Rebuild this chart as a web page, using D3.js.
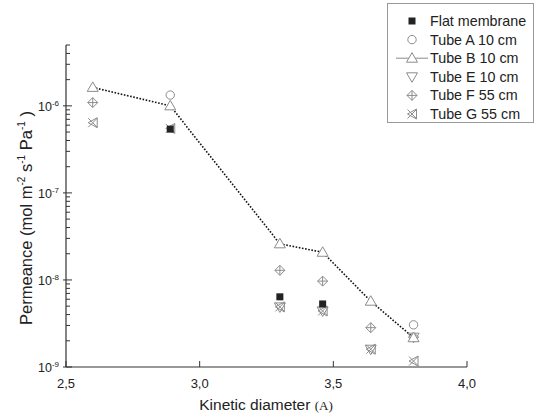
<!DOCTYPE html>
<html>
<head>
<meta charset="utf-8">
<script src="https://d3js.org/d3.v7.min.js"></script>
<style>
  body {margin:0; background:#fff;}
  svg {display:block; font-family:'Liberation Sans',Arial,sans-serif;}
</style>
</head>
<body>
<svg id="chart" width="538" height="415"></svg>
<script>
// kinetic diameters (A)
const diam = [2.6, 2.89, 3.3, 3.46, 3.64, 3.8];
// permeances (mol m-2 s-1 Pa-1), null = not measured / not shown
const flat  = [null, 5.4e-7, 6.4e-9, 5.3e-9, null, null];
const tubeA = [null, 1.33e-6, null, null, null, 3.05e-9];
const tubeB = [1.63e-6, 1.0e-6, 2.6e-8, 2.08e-8, 5.7e-9, 2.17e-9];
const tubeE = [null, null, 4.9e-9, 4.4e-9, 1.6e-9, 2.2e-9];
const tubeF = [1.09e-6, null, 1.29e-8, 9.7e-9, 2.83e-9, 2.2e-9];
const tubeG = [6.4e-7, 5.5e-7, 4.9e-9, 4.4e-9, 1.6e-9, 1.17e-9];
const xTicks = [2.5, 3.0, 3.5, 4.0];
const yTicks = [1e-9, 1e-8, 1e-7, 1e-6];
const seriesNames = ['Flat membrane','Tube A 10 cm','Tube B 10 cm','Tube E 10 cm','Tube F 55 cm','Tube G 55 cm'];

const svg = d3.select('#chart');
const x = d3.scaleLinear().domain([2.5, 4.0]).range([66, 467]);
const y = d3.scaleLog().domain([1e-9, 5e-6]).range([367, 45]);
const grey = '#8c8c8c';

// axes
svg.append('line').attr('x1',66).attr('x2',467).attr('y1',367).attr('y2',367)
   .attr('stroke','#333').attr('stroke-width',1.2);
svg.append('line').attr('x1',66).attr('x2',66).attr('y1',45).attr('y2',367)
   .attr('stroke','#333').attr('stroke-width',1.2);

xTicks.forEach(function(t) {
  svg.append('line').attr('x1',x(t)).attr('x2',x(t)).attr('y1',367).attr('y2',361)
     .attr('stroke','#333');
  svg.append('text').attr('x',x(t)).attr('y',388).attr('text-anchor','middle')
     .attr('font-size',13).attr('fill','#222').text(d3.format('.1f')(t).replace('.',','));
});

// log ticks (minor 2..9 each decade)
const minor = [];
for (let e = -9; e <= -6; e++) for (let k = 1; k <= 9; k++) {
  const v = k * Math.pow(10, e);
  if (v <= 5e-6) minor.push(v);
}
minor.forEach(function(v) {
  const major = yTicks.indexOf(v) >= 0;
  svg.append('line').attr('x1',major ? 63 : 66).attr('x2',major ? 72 : 70)
     .attr('y1',y(v)).attr('y2',y(v)).attr('stroke','#333');
});
yTicks.forEach(function(t) {
  const tx = svg.append('text').attr('x',59).attr('y',y(t)+5).attr('text-anchor','end')
     .attr('font-size',12.5).attr('fill','#222');
  tx.append('tspan').text('10');
  tx.append('tspan').attr('dy',-5).attr('font-size',8).text(Math.round(Math.log10(t)));
});

// axis titles
const xt = svg.append('text').attr('x',266).attr('y',410).attr('text-anchor','middle')
   .attr('font-size',15.5).attr('fill','#222');
xt.append('tspan').text('Kinetic diameter ');
xt.append('tspan').attr('font-family','Liberation Serif,serif').attr('font-size',13).text('(A)');

const yt = svg.append('text').attr('transform','translate(32,218) rotate(-90)')
   .attr('text-anchor','middle').attr('font-size',16.5).attr('fill','#222');
yt.append('tspan').text('Permeance (mol m');
yt.append('tspan').attr('dy',-7).attr('font-size',10).text('-2');
yt.append('tspan').attr('dy',7).text(' s');
yt.append('tspan').attr('dy',-7).attr('font-size',10).text('-1');
yt.append('tspan').attr('dy',7).text(' Pa');
yt.append('tspan').attr('dy',-7).attr('font-size',10).text('-1');
yt.append('tspan').attr('dy',7).text(' )');

// symbol drawers
function drawSymbol(g, kind) {
  if (kind === 0) {
    g.append('rect').attr('x',-3.5).attr('y',-3.5).attr('width',7).attr('height',7).attr('fill','#222');
  } else if (kind === 1) {
    g.append('circle').attr('r',4.2).attr('fill','#fff').attr('stroke',grey);
  } else if (kind === 2) {
    g.append('path').attr('d','M0,-5.5L5.5,4L-5.5,4Z').attr('fill','#fff').attr('stroke',grey);
  } else if (kind === 3) {
    g.append('path').attr('d','M0,5.5L5.5,-4L-5.5,-4Z').attr('fill','none').attr('stroke',grey);
  } else if (kind === 4) {
    g.append('path').attr('d','M0,-5L5,0L0,5L-5,0Z M0,-5L0,5 M-5,0L5,0')
     .attr('fill','#fff').attr('stroke',grey);
  } else {
    g.append('path').attr('d','M-4.5,-4.5L4.5,4.5 M-4.5,4.5L4.5,-4.5 M4.5,-5L4.5,5L-4.5,0Z')
     .attr('fill','none').attr('stroke',grey);
  }
}

// dotted line through tube B
const line = d3.line().x(function(d) {return x(d[0]);}).y(function(d) {return y(d[1]);});
svg.append('path').datum(diam.map(function(d,i) {return [d, tubeB[i]];}))
   .attr('d',line).attr('fill','none').attr('stroke','#111')
   .attr('stroke-width',1.6).attr('stroke-dasharray','1.6,1.6');

const allSeries = [flat, tubeA, tubeB, tubeE, tubeF, tubeG];
const order = [5, 3, 4, 1, 2, 0];
order.forEach(function(s) {
  allSeries[s].forEach(function(v, i) {
    if (v === null) return;
    const g = svg.append('g').attr('transform','translate('+x(diam[i])+','+y(v)+')');
    drawSymbol(g, s);
  });
});

// legend
svg.append('rect').attr('x',387.5).attr('y',3.5).attr('width',146).attr('height',119)
   .attr('fill','#fff').attr('stroke','#999');
seriesNames.forEach(function(name, i) {
  const cy = 21 + i * 18.6;
  if (i === 2) {
    svg.append('line').attr('x1',396).attr('x2',428).attr('y1',cy).attr('y2',cy)
       .attr('stroke',grey);
  }
  const g = svg.append('g').attr('transform','translate(412,'+cy+')');
  drawSymbol(g, i);
  svg.append('text').attr('x',430).attr('y',cy+5).attr('font-size',14.3).attr('fill','#222').text(name);
});
</script>
</body>
</html>
